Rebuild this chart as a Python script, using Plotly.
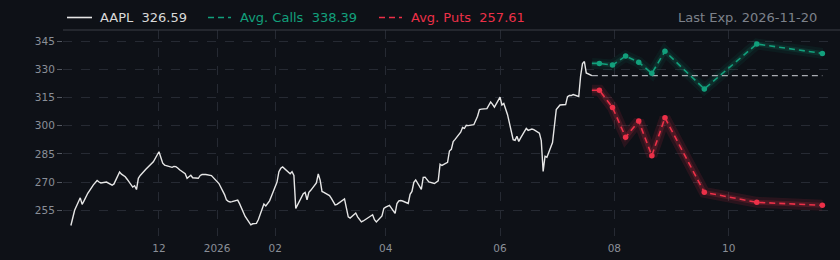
import plotly.graph_objects as go
import pandas as pd

# ---------------- data ----------------
ticker = "AAPL"
price_start = "2025-10-15"
price_end = "2026-07-20"
aapl_close = [
    246.9, 251.5, 255.0,
    261.6, 258.1, 260.0, 262.5, 264.0,
    268.5, 269.5, 270.8, 270.0, 269.5,
    270.0, 269.5, 269.1, 268.3, 269.0,
    275.3, 274.2, 273.6, 272.8, 271.5,
    267.3, 268.0, 266.0, 272.0, 273.5,
    276.8, 277.8, 278.5, 279.5, 280.8,
    286.1, 283.5, 280.0, 279.0, 278.6,
    277.8, 278.3, 278.2, 277.5, 276.5,
    274.4, 272.0, 272.8, 273.6, 272.3,
    272.0, 273.5, 274.0, 274.0, 274.0,
    273.4, 272.3, 271.5, 270.5, 269.2,
    263.3, 260.5, 259.7, 259.4, 259.6,
    260.4, 258.5, 256.0, 253.8, 251.7,
    247.2, 247.8, 247.9, 248.0, 249.9,
    258.3, 257.3, 258.5, 260.0, 262.5,
    270.0, 275.5, 277.3, 278.0, 277.2,
    274.4, 275.5, 273.5, 256.0, 258.0,
    263.8, 264.5, 260.6, 264.5, 265.6,
    269.5, 274.3, 271.0, 265.0, 264.5,
    262.8, 261.3, 259.5, 257.8, 258.1,
    260.6, 261.0, 256.2, 251.5, 250.8,
    253.5, 251.5, 249.8, 248.8, 249.3,
    251.3, 252.2, 252.6, 250.0, 248.8,
    252.0, 256.0, 256.6, 257.1, 257.6,
    253.3, 258.6, 260.0, 260.2, 259.9,
    258.6, 263.5, 265.0, 269.8, 271.1,
    266.1, 272.5, 272.6, 271.3, 270.1,
    269.2, 270.0, 270.6, 279.5, 278.8,
    280.5, 286.5, 287.4, 291.5, 292.7,
    296.5, 299.0, 298.5, 300.2, 300.0,
    300.5, 302.5, 305.0, 308.5, 308.8,
    309.0, 311.0, 312.6, 311.3, 309.8,
    315.2, 311.0, 311.8, 308.8, 305.8,
    292.5, 292.2, 294.3, 291.6, 293.5,
    298.5, 297.5, 297.7, 298.2, 297.9,
    296.0, 292.0, 275.6, 283.7, 283.2,
    291.0, 299.5, 308.6, 309.8, 311.0,
    311.2, 315.4, 316.0, 316.0, 316.5,
    315.5, 326.5, 333.0, 334.1, 328.0,
    326.59,
]

expiry_dates = ["2026-07-24", "2026-07-31", "2026-08-07", "2026-08-14", "2026-08-21",
                "2026-08-28", "2026-09-18", "2026-10-16", "2026-11-20"]
avg_calls = [333.1, 332.2, 337.0, 333.7, 327.8, 339.5, 319.5, 343.4, 338.39]
avg_puts = [318.8, 309.7, 293.8, 302.4, 284.0, 304.2, 264.5, 259.2, 257.61]

x_tick_dates = ["2025-12-01", "2026-01-01", "2026-02-01", "2026-04-01",
                "2026-06-01", "2026-08-01", "2026-10-01"]
x_tick_text = ["12", "2026", "02", "04", "06", "08", "10"]
y_tick_vals = [255, 270, 285, 300, 315, 330, 345]
x_range = ["2025-10-10 19:00", "2026-11-25 16:00"]
y_range = [241.3, 350.85]

# ---------------- style ----------------
W, H = 840, 260
ML, MR, MT, MB = 63, 7, 30, 24
PW, PH = W - ML - MR, H - MT - MB
BG = "#0e1117"
GRID = "#262a33"
TXT = "#8a8f98"
WHITE = "#e6e6e6"
GREEN = "#12a07c"
RED = "#ec3048"
FONT = "DejaVu Sans"

dates = pd.bdate_range(price_start, price_end)
assert len(dates) == len(aapl_close)
last_date = dates[-1]
last_px = aapl_close[-1]

opt_x = [last_date] + list(pd.to_datetime(expiry_dates))
calls_y = [avg_calls[0]] + avg_calls
puts_y = [avg_puts[0]] + avg_puts

fig = go.Figure()

def rgba(hexc, a):
    h = hexc.lstrip("#")
    r, g, b = int(h[0:2], 16), int(h[2:4], 16), int(h[4:6], 16)
    return f"rgba({r},{g},{b},{a})"

# glow layers
for col, ys, a1, a2 in [(GREEN, calls_y, 0.08, 0.14), (RED, puts_y, 0.12, 0.18)]:
    fig.add_trace(go.Scatter(x=opt_x, y=ys, mode="lines",
                             line=dict(color=rgba(col, a1), width=11),
                             hoverinfo="skip", showlegend=False))
    fig.add_trace(go.Scatter(x=opt_x, y=ys, mode="lines",
                             line=dict(color=rgba(col, a2), width=5),
                             hoverinfo="skip", showlegend=False))

# last price projection
fig.add_trace(go.Scatter(x=[last_date, pd.Timestamp(expiry_dates[-1])], y=[last_px, last_px],
                         mode="lines", line=dict(color="#a9acb2", width=1.3, dash="6px,4px"),
                         hoverinfo="skip", showlegend=False))

for col, ys in [(GREEN, calls_y), (RED, puts_y)]:
    fig.add_trace(go.Scatter(x=opt_x, y=ys, mode="lines",
                             line=dict(color=col, width=1.6, dash="6px,4px"),
                             showlegend=False))
    fig.add_trace(go.Scatter(x=opt_x[1:], y=ys[1:], mode="markers",
                             marker=dict(color=col, size=5.5, opacity=1,
                                         line=dict(width=0, color=col)),
                             showlegend=False))

fig.add_trace(go.Scatter(x=dates, y=aapl_close, mode="lines",
                         line=dict(color=WHITE, width=1.4),
                         showlegend=False))

def px_x(p):
    return (p - ML) / PW

def px_y(p):
    return 1 + (MT - p) / PH

LEG_Y = 17.5
shapes = [
    dict(type="line", xref="paper", yref="paper", x0=0, x1=px_x(W), y0=1, y1=1,
         line=dict(color="#3a3e47", width=1.2), layer="above"),
    dict(type="line", xref="paper", yref="paper", x0=px_x(67), x1=px_x(92),
         y0=px_y(LEG_Y), y1=px_y(LEG_Y), line=dict(color=WHITE, width=1.6)),
    dict(type="line", xref="paper", yref="paper", x0=px_x(208), x1=px_x(231),
         y0=px_y(LEG_Y), y1=px_y(LEG_Y), line=dict(color=GREEN, width=1.6, dash="6px,4px")),
    dict(type="line", xref="paper", yref="paper", x0=px_x(379), x1=px_x(402),
         y0=px_y(LEG_Y), y1=px_y(LEG_Y), line=dict(color=RED, width=1.6, dash="6px,4px")),
]

sp = "\u00a0\u00a0"
annotations = [
    dict(text=f"{ticker}{sp}{last_px:.2f}", x=px_x(98), font=dict(color="#d9d9d9")),
    dict(text=f"Avg. Calls{sp}{avg_calls[-1]:.2f}", x=px_x(238), font=dict(color=GREEN)),
    dict(text=f"Avg. Puts{sp}{avg_puts[-1]:.2f}", x=px_x(409), font=dict(color=RED)),
]
for a in annotations:
    a.update(xref="paper", yref="paper", y=px_y(LEG_Y), xanchor="left", yanchor="middle",
             showarrow=False)
    a["font"].update(family=FONT, size=13)
annotations.append(dict(text=f"Last Exp. {expiry_dates[-1]}", xref="paper", yref="paper",
                        x=px_x(819), y=px_y(LEG_Y), xanchor="right", yanchor="middle",
                        showarrow=False, font=dict(family=FONT, size=13, color="#7d828b")))

fig.update_layout(
    width=W, height=H,
    margin=dict(l=ML, r=MR, t=MT, b=MB),
    paper_bgcolor=BG, plot_bgcolor=BG,
    font=dict(family=FONT, size=10.5, color=TXT),
    shapes=shapes, annotations=annotations,
    hovermode=False,
    xaxis=dict(type="date", range=x_range, tickvals=x_tick_dates, ticktext=x_tick_text,
               showgrid=True, gridcolor=GRID, griddash="dash", gridwidth=1,
               zeroline=False, showline=False, ticks="", ticklabelstandoff=4,
               tickfont=dict(family=FONT, size=10.5, color=TXT)),
    yaxis=dict(range=y_range, tickvals=y_tick_vals, showgrid=True, gridcolor=GRID,
               griddash="dash", gridwidth=1, zeroline=False, showline=False,
               ticks="outside", ticklen=5, tickcolor="#555a63", tickwidth=1,
               tickfont=dict(family=FONT, size=10.5, color=TXT)),
)

fig.write_html("out.html")
